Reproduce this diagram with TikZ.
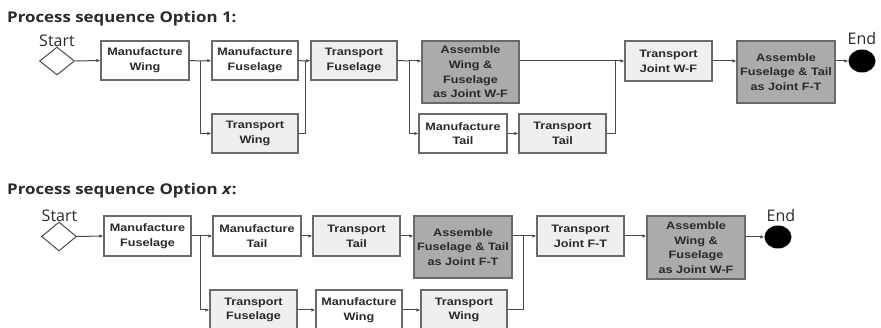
\documentclass[tikz,border=0pt]{standalone}
\usepackage{fontspec}
\setmainfont{Liberation Sans}
\newfontfamily\boxfont[FakeStretch=1.17]{Liberation Sans}
\newfontfamily\headfont[FakeStretch=1.14]{Open Sans}
\newfontfamily\termfont{Open Sans}
\usetikzlibrary{arrows.meta,shapes.geometric}
\definecolor{edgegray}{HTML}{6A6A6A}
\definecolor{linegray}{HTML}{4A4A4A}
\definecolor{lightfill}{HTML}{EFEFEF}
\definecolor{darkfill}{HTML}{ABABAB}
\definecolor{txt}{HTML}{2A2A2A}
\tikzset{
  box/.style={draw=edgegray, line width=1.3pt, fill=white, align=center, text=txt,
    inner sep=0pt, font=\boxfont\bfseries\fontsize{10.8}{14.7}\selectfont},
  plainbox/.style={box},
  lightbox/.style={box, fill=lightfill},
  darkbox/.style={box, fill=darkfill},
  startmark/.style={draw=linegray, line width=1pt, diamond, fill=white, inner sep=0pt},
  endmark/.style={ellipse, fill=black, inner sep=0pt},
  term/.style={font=\termfont\fontsize{16}{18}\selectfont, text=txt, inner sep=0pt, anchor=base},
  heading/.style={font=\headfont\bfseries\fontsize{14.8}{17}\selectfont, text=txt, inner sep=0pt, anchor=base west},
  flow/.style={draw=linegray, line width=1pt, -{Latex[length=4pt,width=3.5pt]}},
  link/.style={draw=linegray, line width=1pt},
}
\begin{document}
\begin{tikzpicture}[x=1pt, y=-1pt]
\useasboundingbox[fill=white] (0,0) rectangle (881,328);
\begin{scope}
\clip (0,0) rectangle (881,328);

% ---------- Option 1 ----------
\node[heading] (h1) at (7,22.5) {Process sequence Option 1:};
\node[term] (s1t) at (57,47) {Start};
\node[startmark, minimum width=35pt, minimum height=28pt] (s1) at (57,61) {};

\node[plainbox, minimum width=88pt, minimum height=39pt] (mw) at (145,60.5) {Manufacture\\Wing};
\node[plainbox, minimum width=86pt, minimum height=39pt] (mf) at (255,60.5) {Manufacture\\Fuselage};
\node[lightbox, minimum width=86pt, minimum height=39pt] (tf) at (354,60.5) {Transport\\Fuselage};
\node[lightbox, minimum width=86pt, minimum height=39pt] (tw) at (255,133.5) {Transport\\Wing};
\node[darkbox, minimum width=97pt, minimum height=62pt] (awf) at (470.5,72) {Assemble\\Wing \&\\Fuselage\\as Joint W-F};
\node[plainbox, minimum width=88pt, minimum height=39pt] (mt) at (463,133.5) {Manufacture\\Tail};
\node[lightbox, minimum width=87pt, minimum height=39pt] (tt) at (562.5,133.5) {Transport\\Tail};
\node[lightbox, minimum width=87pt, minimum height=40pt] (tj) at (668.5,61) {Transport\\Joint W-F};
\node[darkbox, minimum width=98pt, minimum height=62pt] (aft) at (786,72) {Assemble\\Fuselage \& Tail\\as Joint F-T};
\node[endmark, minimum width=27pt, minimum height=23pt] (e1) at (862,61) {};
\node[term] (e1t) at (862,45) {End};

\coordinate (b1) at (200,61);
\coordinate (b2) at (305,61);
\coordinate (b3) at (409,61);
\coordinate (b4) at (615,61);

\draw[flow] (s1.east) -- (mw.west);
\draw[link] (mw.east) -- (b1);
\draw[flow] (b1) -- (mf.west);
\draw[flow] (b1) |- (tw.west);
\draw[link] (mf.east) -- (b2);
\draw[link] (tw.east) -| (b2);
\draw[flow] (b2) -- (tf.west);
\draw[link] (tf.east) -- (b3);
\draw[flow] (b3) -- (awf.west |- b3);
\draw[flow] (b3) |- (mt.west);
\draw[flow] (mt.east) -- (tt.west);
\draw[link] (awf.east |- b4) -- (b4);
\draw[link] (tt.east) -| (b4);
\draw[flow] (b4) -- (tj.west);
\draw[flow] (tj.east) -- (aft.west |- tj.east);
\draw[flow] (aft.east |- e1) -- (e1.west);

% ---------- Option x ----------
\node[heading] (h2) at (7,195) {Process sequence Option \textit{x}:};
\node[term] (s2t) at (59.5,222) {Start};
\node[startmark, minimum width=35pt, minimum height=29pt] (s2) at (59,236.5) {};

\node[plainbox, minimum width=87pt, minimum height=40pt] (mfu) at (147.5,236) {Manufacture\\Fuselage};
\node[plainbox, minimum width=88pt, minimum height=40pt] (mt2) at (257,236) {Manufacture\\Tail};
\node[lightbox, minimum width=87pt, minimum height=40pt] (tt2) at (356.5,236) {Transport\\Tail};
\node[darkbox, minimum width=98pt, minimum height=62pt] (aft2) at (463,247) {Assemble\\Fuselage \& Tail\\as Joint F-T};
\node[lightbox, minimum width=87pt, minimum height=40pt] (tj2) at (580.5,236) {Transport\\Joint F-T};
\node[darkbox, minimum width=98pt, minimum height=63pt] (awf2) at (696,247.5) {Assemble\\Wing \&\\Fuselage\\as Joint W-F};
\node[endmark, minimum width=27pt, minimum height=23pt] (e2) at (778,237) {};
\node[term] (e2t) at (781,222) {End};
\node[lightbox, minimum width=87pt, minimum height=40pt] (tfu) at (253.5,310) {Transport\\Fuselage};
\node[plainbox, minimum width=86pt, minimum height=40pt] (mw2) at (359,310) {Manufacture\\Wing};
\node[lightbox, minimum width=86pt, minimum height=40pt] (tw2) at (464,310) {Transport\\Wing};

\coordinate (c1) at (200,236);
\coordinate (c2) at (523,236);

\draw[flow] (s2.east) -- (mfu.west);
\draw[link] (mfu.east) -- (c1);
\draw[flow] (c1) -- (mt2.west);
\draw[flow] (c1) |- (tfu.west);
\draw[flow] (mt2.east) -- (tt2.west);
\draw[flow] (tt2.east) -- (aft2.west |- tt2.east);
\draw[flow] (tfu.east) -- (mw2.west);
\draw[flow] (mw2.east) -- (tw2.west);
\draw[link] (aft2.east |- c2) -- (c2);
\draw[link] (tw2.east) -| (c2);
\draw[flow] (c2) -- (tj2.west);
\draw[flow] (tj2.east) -- (awf2.west |- tj2.east);
\draw[flow] (awf2.east |- e2) -- (e2.west);
\end{scope}
\end{tikzpicture}
\end{document}
